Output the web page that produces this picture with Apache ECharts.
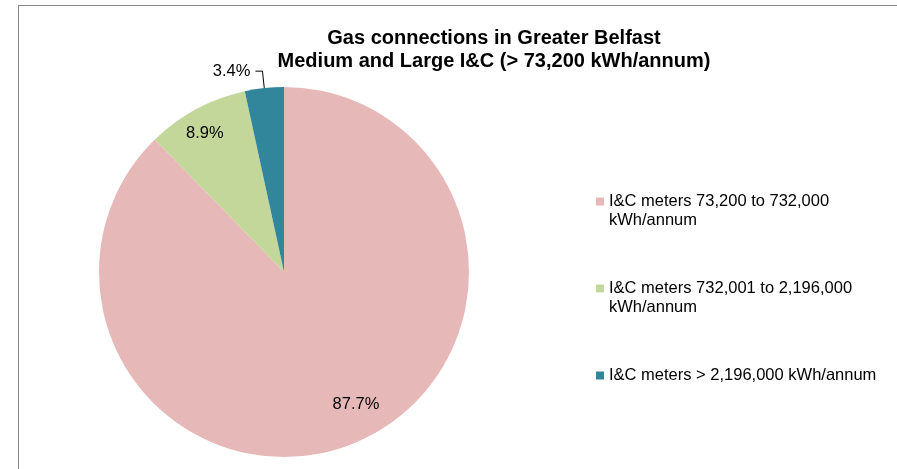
<!DOCTYPE html>
<html>
<head>
<meta charset="utf-8">
<script src="https://cdn.jsdelivr.net/npm/echarts@6/dist/echarts.min.js"></script>
<style>
  html, body { margin: 0; padding: 0; background: #fff; overflow: hidden; }
  #chart { position: absolute; left: 0; top: 0; width: 897px; height: 469px; }
  /* gray frame of the original chart box (top + left edges only visible) */
  #frame { position: absolute; left: 18px; top: 5px; width: 900px; height: 480px;
           border-left: 1px solid #868686; border-top: 1px solid #868686; pointer-events: none; }
</style>
</head>
<body>
<div id="chart"></div>
<div id="frame"></div>
<script>
const titleLines = ['Gas connections in Greater Belfast', 'Medium and Large I&C (> 73,200 kWh/annum)']
const categories = [
  'I&C meters 73,200 to 732,000 kWh/annum',
  'I&C meters 732,001 to 2,196,000 kWh/annum',
  'I&C meters > 2,196,000 kWh/annum'
]
const shares = [87.7, 8.9, 3.4]
const colors = ['#E6B8B7', '#C4D79B', '#31869B']

const font = '"Liberation Sans", Arial, sans-serif'
const chart = echarts.init(document.getElementById('chart'))

// nudges for the inside labels, to sit where Excel put them
const labelShift = [{ dx: 36, dy: 44 }, { dx: -34, dy: -54 }, {}]
// legend: one block per item so that each icon sits on the first text line
const legendTops = [173, 260, 366]

// long names wrap before the unit, like in the original
const wrapName = (name) => name.length > 35 ? '\n' + name.replace(' kWh/annum', '\nkWh/annum') : name

const option = {
  backgroundColor: '#fff',
  title: {
    text: titleLines.join('\n'),
    left: 494,
    top: 27,
    padding: 0,
    textAlign: 'center',
    textStyle: { fontFamily: font, fontSize: 20, fontWeight: 'bold', color: '#000', lineHeight: 23 }
  },
  legend: categories.map((name, i) => ({
    data: [name],
    orient: 'vertical',
    left: 596,
    top: legendTops[i],
    padding: 0,
    icon: 'rect',
    itemWidth: 8,
    itemHeight: 8,
    selectedMode: false,
    formatter: wrapName,
    textStyle: { fontFamily: font, fontSize: 16.5, lineHeight: 19, color: '#000' }
  })),
  series: [
    {
      type: 'pie',
      center: [284, 272],
      radius: 185,
      startAngle: 90,
      clockwise: true,
      avoidLabelOverlap: false,
      animation: false,
      itemStyle: { borderWidth: 0 },
      emphasis: { scale: false },
      label: {
        show: true,
        position: 'inside',
        formatter: '{c}%',
        fontFamily: font,
        fontSize: 16.5,
        color: '#000'
      },
      labelLine: { show: false },
      labelLayout: (params) => labelShift[params.dataIndex],
      data: categories.map((name, i) => ({
        name,
        value: shares[i],
        itemStyle: { color: colors[i] }
      }))
    }
  ]
}

// smallest slice gets its label outside with a leader line
const small = option.series[0].data[2]
small.label = { position: 'outside' }
small.labelLine = { show: true, length: 17, length2: 7, lineStyle: { color: '#000', width: 1 } }

chart.setOption(option)
</script>
</body>
</html>
